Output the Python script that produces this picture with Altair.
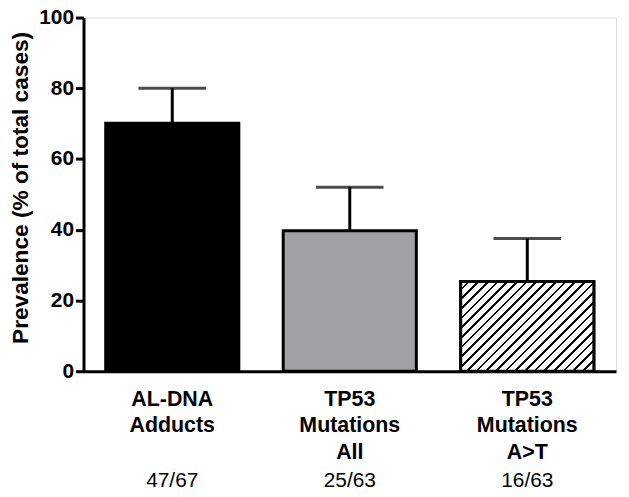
import altair as alt
import pandas as pd

# ---- data ----
categories = ["AL-DNA|Adducts", "TP53|Mutations|All", "TP53|Mutations|A>T"]
prevalence = [70.1, 39.7, 25.4]
upper = [80.0, 52.0, 37.5]
fractions = ["47/67", "25/63", "16/63"]
y_ticks = [0, 20, 40, 60, 80, 100]

df = pd.DataFrame({
    "cat": categories,
    "value": prevalence,
    "upper": upper,
    "frac": fractions,
})

W, H = 536, 356
FONT = "Liberation Sans"
bar_width = 134

# hatch pattern for the third bar, built as a striped linear gradient
hatch_h = prevalence[2] / 100 * H
r = hatch_h / bar_width
k = (1 + r) / (1 + r * r)
diag = (bar_width + hatch_h) / 2 ** 0.5
n = max(1, round(diag / 7.0))
f = 0.28
stops = []
for i in range(n):
    a = i / n
    b = (i + 1 - f) / n
    c = (i + 1) / n
    stops += [
        alt.GradientStop(offset=a, color="white"),
        alt.GradientStop(offset=b, color="white"),
        alt.GradientStop(offset=b, color="black"),
        alt.GradientStop(offset=c, color="black"),
    ]
hatch = alt.Gradient(gradient="linear", stops=stops, x1=0, y1=0, x2=k, y2=k * r)

x_enc = alt.X(
    "cat:N",
    sort=categories,
    scale=alt.Scale(paddingInner=0.25, paddingOuter=0.125),
    axis=alt.Axis(
        title=None,
        labelAngle=0,
        ticks=False,
        domainWidth=3,
        domainColor="black",
        labelFont=FONT,
        labelFontSize=21.5,
        labelFontWeight="bold",
        labelColor="black",
        labelLineHeight=27,
        labelPadding=17,
        labelExpr="split(datum.value, '|')",
    ),
)
y_enc = alt.Y(
    "value:Q",
    scale=alt.Scale(domain=[0, 100], nice=False),
    axis=alt.Axis(
        values=y_ticks,
        grid=False,
        domainWidth=3,
        domainColor="black",
        tickWidth=3,
        tickSize=8,
        tickColor="black",
        labelFont=FONT,
        labelFontSize=21,
        labelFontWeight="bold",
        labelColor="black",
        labelPadding=2,
        title="Prevalence (% of total cases)",
        titleFont=FONT,
        titleFontSize=22.8,
        titleFontWeight="bold",
        titleColor="black",
        titlePadding=6,
        titleY=H / 2 - 7,
    ),
)

base = alt.Chart(df)

bars = base.mark_bar(size=bar_width, stroke="black", strokeWidth=3).encode(
    x=x_enc,
    y=y_enc,
    fill=alt.Fill(
        "cat:N",
        scale=alt.Scale(domain=categories, range=["#000000", "#a1a0a5", "#ffffff"]),
        legend=None,
    ),
)

hatched = base.transform_filter(
    alt.datum.cat == categories[2]
).mark_bar(size=bar_width, stroke="black", strokeWidth=3, fill=hatch).encode(
    x=alt.X("cat:N", sort=categories),
    y=alt.Y("value:Q"),
)

err = base.mark_rule(color="black", strokeWidth=3).encode(
    x=alt.X("cat:N", sort=categories),
    y=alt.Y("value:Q"),
    y2="upper:Q",
)

cap = base.mark_tick(color="black", size=68, thickness=3).encode(
    x=alt.X("cat:N", sort=categories),
    y=alt.Y("upper:Q"),
)

frac_text = base.mark_text(
    font=FONT, fontSize=21, color="black", baseline="middle"
).encode(
    x=alt.X("cat:N", sort=categories),
    y=alt.value(H + 111),
    text="frac:N",
)

chart = (
    alt.layer(bars, hatched, err, cap, frac_text)
    .properties(
        width=W,
        height=H,
        autosize=alt.AutoSizeParams(type="none"),
        padding={"left": 76, "top": 8, "right": 5, "bottom": 125},
    )
    .configure_view(stroke=None)
    .configure(background="white")
)

chart.save("out.html", embed_options={"renderer": "svg", "actions": False})
